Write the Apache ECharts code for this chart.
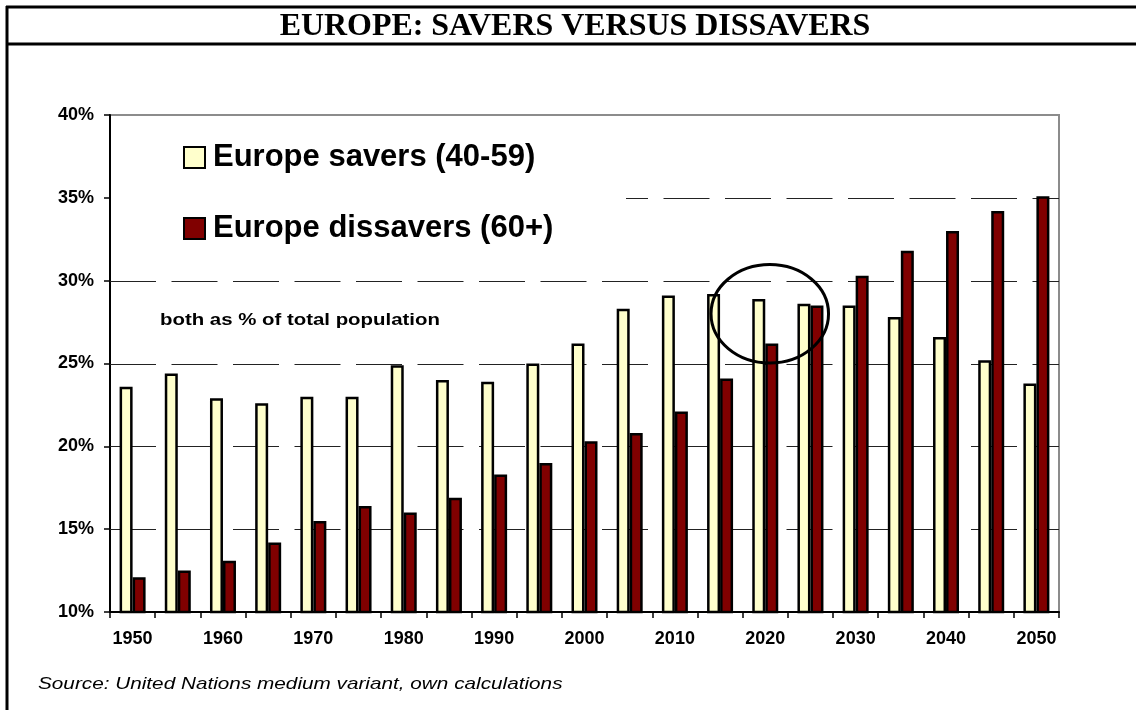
<!DOCTYPE html>
<html>
<head>
<meta charset="utf-8">
<script src="https://cdn.jsdelivr.net/npm/echarts@6/dist/echarts.min.js"></script>
<style>
  html, body { margin: 0; padding: 0; background: #fff; }
  #chart { width: 1136px; height: 710px; }
</style>
</head>
<body>
<div id="chart"></div>
<script>
// Population shares in Europe, 1950-2050 (five-year steps)
const years = ['1950', '1955', '1960', '1965', '1970', '1975', '1980', '1985', '1990', '1995', '2000',
               '2005', '2010', '2015', '2020', '2025', '2030', '2035', '2040', '2045', '2050'];
const savers = [23.6, 24.4, 22.9, 22.6, 23.0, 23.0, 24.9, 24.0, 23.9, 25.0, 26.2,
                28.3, 29.1, 29.2, 28.9, 28.6, 28.5, 27.8, 26.6, 25.2, 23.8];
const dissavers = [12.1, 12.5, 13.1, 14.2, 15.5, 16.4, 16.0, 16.9, 18.3, 19.0, 20.3,
                   20.8, 22.1, 24.1, 26.2, 28.5, 30.3, 31.8, 33.0, 34.2, 35.1];
const seriesNames = ['Europe savers (40-59)', 'Europe dissavers (60+)'];
const yMin = 10, yMax = 40, yStep = 5;
const gridValues = [15, 20, 25, 30, 35];

const titleText = 'EUROPE: SAVERS VERSUS DISSAVERS';
const noteText = 'both as % of total population';
const sourceText = 'Source: United Nations medium variant, own calculations';

const SANS = '"Liberation Sans", Arial, sans-serif';
const SERIF = '"Liberation Serif", "Times New Roman", serif';

// width of the legend panel, measured from the value axis; gridlines behind it are not drawn
const legendPanelWidth = 516;
const legendPanelBottom = 258;

const chart = echarts.init(document.getElementById('chart'), null, { renderer: 'canvas' });

const frame = [
  { type: 'line', z: 10, shape: { x1: 6, y1: 7, x2: 1136, y2: 7 }, style: { stroke: '#000', lineWidth: 3 } },
  { type: 'line', z: 10, shape: { x1: 7, y1: 6, x2: 7, y2: 710 }, style: { stroke: '#000', lineWidth: 3 } },
  { type: 'line', z: 10, shape: { x1: 6, y1: 44, x2: 1136, y2: 44 }, style: { stroke: '#000', lineWidth: 3 } },
  { type: 'text', z: 10, x: 575, y: 27, scaleX: 1.03,
    style: { text: titleText, align: 'center', verticalAlign: 'middle',
             font: 'bold 31px ' + SERIF, fill: '#000' } },
  { type: 'text', z: 10, x: 160, y: 320, scaleX: 1.2,
    style: { text: noteText, align: 'left', verticalAlign: 'middle',
             font: 'bold 17px ' + SANS, fill: '#000' } },
  { type: 'text', z: 10, x: 38, y: 684, scaleX: 1.22,
    style: { text: sourceText, align: 'left', verticalAlign: 'middle',
             font: 'italic 17px ' + SANS, fill: '#000' } }
];

chart.setOption({
  animation: false,
  backgroundColor: '#fff',
  grid: {
    left: 110, right: 77, top: 115, bottom: 98,
    show: true, backgroundColor: '#fff', borderColor: '#8c8c8c', borderWidth: 2
  },
  legend: {
    orient: 'vertical', left: 170, top: 130,
    padding: [12, 10, 14, 13],
    itemWidth: 21, itemHeight: 21, itemGap: 40,
    icon: 'rect',
    textStyle: { fontFamily: SANS, fontWeight: 'bold', fontSize: 31, color: '#000', padding: [0, 0, 0, 3] },
    data: seriesNames
  },
  xAxis: {
    type: 'category',
    data: years,
    boundaryGap: true,
    axisLine: { lineStyle: { color: '#000', width: 2 } },
    axisTick: { show: true, interval: 0, length: 6, lineStyle: { color: '#000', width: 1.5 } },
    axisLabel: { interval: 1, margin: 18, color: '#000', fontFamily: SANS, fontWeight: 'bold', fontSize: 18 },
    splitLine: { show: false }
  },
  yAxis: {
    type: 'value',
    min: yMin, max: yMax, interval: yStep,
    axisLine: { show: true, lineStyle: { color: '#000', width: 2 } },
    axisTick: { show: true, length: 6, lineStyle: { color: '#000', width: 1.5 } },
    axisLabel: { margin: 16, color: '#000', fontFamily: SANS, fontWeight: 'bold', fontSize: 18,
                 formatter: '{value}%' },
    splitLine: { show: false }
  },
  series: [
    {
      name: seriesNames[0], type: 'bar', data: savers, z: 3,
      barWidth: 13, barGap: '0%',
      itemStyle: { color: '#FFFFCC', borderColor: '#000', borderWidth: 2.5 }
    },
    {
      name: seriesNames[1], type: 'bar', data: dissavers, z: 3,
      barWidth: 13, barGap: '0%',
      itemStyle: { color: '#800000', borderColor: '#000', borderWidth: 2.5 }
    }
  ],
  graphic: frame
});

// Dashed value gridlines and the highlight ring, placed through the axis scales
const p50 = chart.convertToPixel({ xAxisIndex: 0 }, years[0]);
const p20 = chart.convertToPixel({ xAxisIndex: 0 }, '2020');
const p25 = chart.convertToPixel({ xAxisIndex: 0 }, '2025');
const step = p25 - p20;
const xLeft = p50 - step / 2;
const xRight = chart.convertToPixel({ xAxisIndex: 0 }, years[years.length - 1]) + step / 2;

const gridLines = gridValues.map(v => {
  const yPix = chart.convertToPixel({ yAxisIndex: 0 }, v);
  const y = Math.round(yPix) + 0.5;
  // lines passing behind the legend start where the legend panel ends, keeping the dash phase
  const skip = yPix < legendPanelBottom ? legendPanelWidth : 0;
  return {
    type: 'line', z: 1, silent: true,
    shape: { x1: xLeft + skip, y1: y, x2: xRight, y2: y },
    style: { stroke: '#222', lineWidth: 1, lineDash: [46, 15.5], lineDashOffset: skip }
  };
});

const cy = chart.convertToPixel({ yAxisIndex: 0 }, 28.0);
const ry = chart.convertToPixel({ yAxisIndex: 0 }, 25.0) - cy;
const ring = {
  type: 'ellipse', z: 10,
  shape: { cx: p20 + 0.1 * step, cy: cy, rx: 1.3 * step, ry: ry * 0.99 },
  style: { fill: 'none', stroke: '#000', lineWidth: 3 }
};

chart.setOption({ graphic: frame.concat(gridLines, [ring]) });
</script>
</body>
</html>
